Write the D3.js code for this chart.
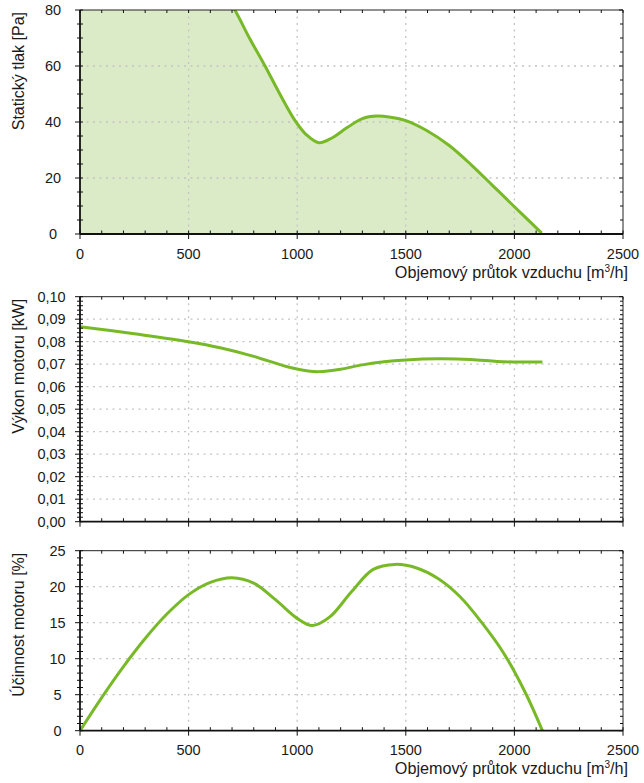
<!DOCTYPE html>
<html>
<head>
<meta charset="utf-8">
<script src="https://cdn.jsdelivr.net/npm/d3@7"></script>
<style>
html,body{margin:0;padding:0;background:#fff;}
svg{display:block;font-family:"Liberation Sans",Arial,sans-serif;}
</style>
</head>
<body>
<svg id="chart" width="644" height="783"></svg>
<script>
// ---- data ----
const xTicks = [0, 500, 1000, 1500, 2000, 2500];
const xLabel = "Objemový průtok vzduchu [m";

// Static pressure (values above 80 Pa lie outside the visible range and are estimated)
const pressFlow = [0, 200, 400, 600, 713, 780, 852, 920, 990, 1040, 1100, 1160, 1230, 1300, 1366, 1430, 1500, 1600, 1700, 1800, 1900, 2000, 2126];
const pressPa   = [145, 130, 112, 94, 80, 70, 60, 50, 40.5, 35.6, 32.6, 34.3, 38, 41.2, 42.1, 41.7, 40.5, 36.8, 31.6, 24.8, 17.3, 9.75, 0.3];
const pressTicks = [0, 20, 40, 60, 80];

// Motor power
const powFlow = [0, 250, 500, 650, 800, 950, 1050, 1100, 1200, 1300, 1400, 1500, 1650, 1800, 1920, 2000, 2129];
const powKW   = [0.0867, 0.0835, 0.0800, 0.0772, 0.0735, 0.0690, 0.0670, 0.0667, 0.0678, 0.0697, 0.0711, 0.0719, 0.0724, 0.0721, 0.0712, 0.0710, 0.0710];
const powTicks = [0, 0.01, 0.02, 0.03, 0.04, 0.05, 0.06, 0.07, 0.08, 0.09, 0.10];

// Motor efficiency
const effFlow = [0, 100, 200, 300, 400, 500, 600, 700, 800, 900, 1000, 1070, 1150, 1250, 1350, 1450, 1550, 1650, 1750, 1850, 1950, 2050, 2129];
const effPct  = [0, 4.6, 8.9, 12.8, 16.2, 18.9, 20.6, 21.25, 20.5, 18.2, 15.6, 14.6, 15.8, 19.3, 22.4, 23.1, 22.6, 21.1, 18.6, 15.0, 10.8, 5.3, 0];
const effTicks = [0, 5, 10, 15, 20, 25];

// ---- drawing ----
const svg = d3.select("#chart");
const GREEN = "#78b928";
const FILL = "#dcebc7";
const GRID = "#c4c4c4";
const TXT = "#1a1a1a";
const X0 = 80, X1 = 623;
const CURVE = d3.curveCatmullRom.alpha(0.5);

const x = d3.scaleLinear().domain([0, 2500]).range([X0, X1]);

function panel(o) {
  const y = d3.scaleLinear().domain(o.domain).range([o.bottom, o.top]);
  const g = svg.append("g");
  const cid = "clip" + o.id;
  svg.append("defs").append("clipPath").attr("id", cid)
    .append("rect").attr("x", X0).attr("y", o.top).attr("width", X1 - X0).attr("height", o.bottom - o.top);

  const data = o.flow.map((f, i) => ({f, v: o.vals[i]}));

  if (o.fill) {
    const area = d3.area().x(d => x(d.f)).y0(y(o.domain[0])).y1(d => y(d.v)).curve(CURVE);
    g.append("path").datum(data).attr("d", area).attr("fill", FILL).attr("clip-path", `url(#${cid})`);
  }

  // grid
  const gx = g.append("g");
  xTicks.filter(t => t > 0 && t < 2500).forEach(t => {
    gx.append("line").attr("x1", x(t)).attr("x2", x(t)).attr("y1", o.top).attr("y2", o.bottom)
      .attr("stroke", GRID).attr("stroke-width", 1.3).attr("stroke-dasharray", "2,4.5");
  });
  o.ticks.filter(t => t > o.domain[0] && t < o.domain[1] - 1e-9).forEach(t => {
    gx.append("line").attr("x1", X0).attr("x2", X1).attr("y1", y(t)).attr("y2", y(t))
      .attr("stroke", GRID).attr("stroke-width", 1.3).attr("stroke-dasharray", "2,4.5");
  });

  // curve
  const line = d3.line().x(d => x(d.f)).y(d => y(d.v)).curve(CURVE);
  g.append("path").datum(data).attr("d", line).attr("fill", "none").attr("stroke", GREEN)
    .attr("stroke-width", 3).attr("stroke-linejoin", "round").attr("clip-path", `url(#${cid})`);

  // frame
  g.append("line").attr("x1", X0).attr("x2", X1).attr("y1", o.top).attr("y2", o.top).attr("stroke", "#222").attr("stroke-width", 1);
  g.append("line").attr("x1", X1).attr("x2", X1).attr("y1", o.top).attr("y2", o.bottom).attr("stroke", "#222").attr("stroke-width", 1);

  // minor ticks x (every 100)
  const minorX = d3.range(0, 2501, 100);
  const tk = g.append("g").attr("stroke", "#111").attr("stroke-width", 1);
  minorX.forEach(v => {
    const isMajor = v % 500 === 0;
    tk.append("line").attr("x1", x(v)).attr("x2", x(v)).attr("y1", o.bottom - 3.5).attr("y2", o.bottom + (isMajor ? 5 : 0));
    tk.append("line").attr("x1", x(v)).attr("x2", x(v)).attr("y1", o.top).attr("y2", o.top + 3);
  });
  // minor ticks y
  const step = o.minorStep;
  const nMinor = Math.round((o.domain[1] - o.domain[0]) / step);
  for (let i = 0; i <= nMinor; i++) {
    const v = o.domain[0] + i * step;
    const isMajor = o.ticks.some(t => Math.abs(t - v) < step / 10);
    tk.append("line").attr("x1", X0 - (isMajor ? 5 : 3)).attr("x2", X0 + 3).attr("y1", y(v)).attr("y2", y(v));
    tk.append("line").attr("x1", X1 - (isMajor ? 4 : 3)).attr("x2", X1).attr("y1", y(v)).attr("y2", y(v));
  }

  // left & bottom axis lines
  g.append("line").attr("x1", X0).attr("x2", X0).attr("y1", o.top).attr("y2", o.bottom).attr("stroke", "#111").attr("stroke-width", 1.8);
  g.append("line").attr("x1", X0).attr("x2", X1).attr("y1", o.bottom).attr("y2", o.bottom).attr("stroke", "#111").attr("stroke-width", 1.8);

  // y tick labels
  o.ticks.forEach(t => {
    g.append("text").attr("x", o.labelX).attr("y", y(t)).attr("dy", "0.36em")
      .attr("text-anchor", "middle").attr("font-size", 14.5).attr("fill", TXT).text(o.fmt(t));
  });

  // x tick labels
  if (o.xLabels) {
    xTicks.forEach(t => {
      g.append("text").attr("x", x(t)).attr("y", o.bottom + 24.5).attr("text-anchor", "middle")
        .attr("font-size", 14.5).attr("fill", TXT).text(t);
    });
    const xt = g.append("text").attr("x", 628).attr("y", o.bottom + 43.5).attr("text-anchor", "end")
      .attr("font-size", 16.2).attr("fill", TXT);
    xt.append("tspan").text(xLabel);
    xt.append("tspan").attr("font-size", 10).attr("dy", -6).text("3");
    xt.append("tspan").attr("dy", 6).text("/h]");
  }

  // y title
  g.append("text").attr("transform", `translate(24,${o.top + 2}) rotate(-90)`).attr("text-anchor", "end")
    .attr("font-size", 16).attr("fill", TXT).text(o.title);
}

panel({id: 1, top: 10, bottom: 234, domain: [0, 80], ticks: pressTicks, minorStep: 5,
       flow: pressFlow, vals: pressPa, fill: true, xLabels: true, labelX: 53,
       fmt: d => d, title: "Statický tlak [Pa]"});

panel({id: 2, top: 296.7, bottom: 521.7, domain: [0, 0.10], ticks: powTicks, minorStep: 0.002,
       flow: powFlow, vals: powKW, fill: false, xLabels: false, labelX: 51.5,
       fmt: d => d3.format(".2f")(d).replace(".", ","), title: "Výkon motoru [kW]"});

panel({id: 3, top: 550.7, bottom: 730.7, domain: [0, 25], ticks: effTicks, minorStep: 1,
       flow: effFlow, vals: effPct, fill: false, xLabels: true, labelX: 57.5,
       fmt: d => d, title: "Účinnost motoru [%]"});
</script>
</body>
</html>
